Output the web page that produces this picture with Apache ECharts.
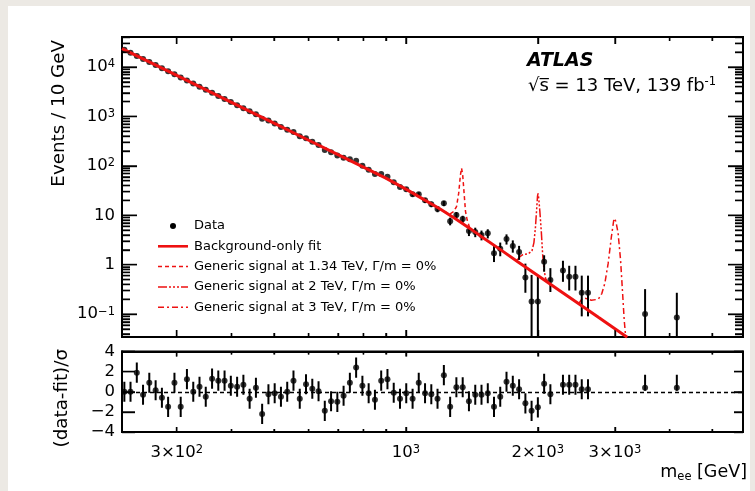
<!DOCTYPE html>
<html>
<head>
<meta charset="utf-8">
<script src="https://cdn.jsdelivr.net/npm/echarts@6/dist/echarts.min.js"></script>
<style>
  html, body { margin: 0; padding: 0; background: #ece9e4; }
  #panel { position: absolute; left: 8px; top: 6px; width: 742px; height: 485px; background: #fff; }
  #chart { position: absolute; left: 0; top: 0; width: 755px; height: 491px; }
</style>
</head>
<body>
<div id="panel"></div>
<div id="chart"></div>
<script>
// Dielectron invariant-mass spectrum: data, background-only fit, generic signals, and pulls.
const FONT = '"DejaVu Sans", "Liberation Sans", sans-serif';
const RED = '#ee1111';

// m_ee bin centres [GeV]; the last two are wide high-mass bins
const massGeV = [227.8, 235.3, 243.2, 251.3, 259.7, 268.5, 277.5, 286.7, 296.4, 306.3,
  316.5, 327.2, 338.1, 349.4, 361.2, 373.2, 385.7, 398.6, 412.0, 425.8,
  440.0, 454.8, 469.9, 485.7, 501.9, 518.7, 536.1, 554.0, 572.6, 591.7,
  611.6, 632.0, 653.1, 675.0, 697.6, 720.9, 745.1, 770.0, 795.8, 822.4,
  850.0, 878.4, 907.8, 938.2, 969.6, 1002, 1036, 1070, 1106, 1143,
  1181, 1221, 1262, 1304, 1348, 1393, 1440, 1488, 1538, 1589,
  1642, 1697, 1754, 1813, 1874, 1936, 2001, 2068, 2137, 2209,
  2283, 2359, 2438, 2520, 2604, 3515, 4153];

// Events / 10 GeV (null = empty bin)
const events = [22300, 19300, 16700, 14500, 12600, 10900, 9440, 8190, 7100, 6150,
  5320, 4620, 4000, 3470, 3000, 2600, 2260, 1950, 1690, 1470,
  1270, 1100, 900, 828, 718, 612, 538, 484, 395, 361,
  306, 263, 209, 189, 162, 145, 136, 126, 100, 82.9,
  68.4, 68.0, 59.8, 46.4, 37.4, 33.4, 26.6, 26.5, 20.0, 16.7,
  13.3, 17.4, 7.6, 10.1, 8.4, 4.8, 4.6, 4.0, 4.3, 1.7,
  2.1, 3.3, 2.4, 1.8, 0.55, 0.18, 0.18, 1.15, 0.49, null,
  0.76, 0.57, 0.57, 0.27, 0.27, 0.10, 0.085];

// (data - fit) / sigma per bin
const pull = [0, 0, 1.9, -0.3, 0.9, 0.15, -0.6, -1.5, 0.9, -1.5,
  1.25, 0, 0.5, -0.5, 1.3, 1.1, 1.1, 0.6, 0.5, 0.7,
  -0.7, 0.4, -2.2, -0.25, -0.15, -0.5, 0, 1.1, -0.7, 0.75,
  0.3, 0.05, -1.9, -0.95, -1.0, -0.4, 0.9, 2.4, 0.6, -0.15,
  -0.8, 1.1, 1.25, -0.1, -0.7, -0.15, -0.7, 0.9, -0.15, -0.25,
  -0.7, 1.65, -1.5, 0.45, 0.45, -0.95, -0.3, -0.3, -0.15, -1.5,
  -0.5, 1.0, 0.6, 0.25, -1.15, -1.9, -1.55, 0.8, -0.25, null,
  0.7, 0.7, 0.7, 0.25, 0.25, 0.4, 0.4];

// Statistical error bars, from bin ERR_FROM on (below that they hide under the marker)
const ERR_FROM = 45;
const errLow = [30.3, 23.8, 23.8, 17.7, 14.6, 11.5, 15.3, 6.25, 8.6, 7.04,
  3.79, 3.6, 3.1, 3.4, 1.13, 1.48, 2.55, 1.75, 1.25, 0.27,
  0.02, 0.02, 0.72, 0.28, null, 0.45, 0.3, 0.3, 0.09, 0.09,
  0.02, 0.02];
const errHigh = [36.5, 29.4, 29.2, 22.3, 18.8, 15.1, 19.5, 8.95, 11.6, 9.76,
  5.81, 5.6, 4.9, 5.2, 2.4, 2.8, 4.1, 3.1, 2.4, 1.05,
  0.62, 0.62, 1.55, 0.85, null, 1.2, 0.95, 0.95, 0.6, 0.6,
  0.32, 0.27];
// Pull error: 1 sigma, except the single-event tail bins
const tailPullErr = { 75: [0.3, 1.3], 76: [0.3, 1.3] };

// Background-only fit
const fitMass = [225, 250, 300, 350, 400, 450, 500, 600, 700, 800, 900, 1000, 1100, 1200,
  1300, 1400, 1500, 1650, 1800, 2000, 2250, 2500, 2750, 3000, 3200];
const fitEvents = [23500, 14860, 6730, 3435, 1923, 1153, 728, 329, 168, 94.2, 56.5, 33.8, 20.7, 13.2,
  8.4, 5.42, 3.52, 1.97, 1.15, 0.605, 0.294, 0.154, 0.0859, 0.0505, 0.034];

// Fit + generic signal, Gamma/m = 0%
const sig134Mass = [1220, 1260, 1285, 1305, 1320, 1332, 1340, 1348, 1358, 1368, 1380, 1400];
const sig134Events = [12.0, 10.6, 11.8, 15, 28, 65, 90, 65, 28, 12, 8.0, 5.42];
const sig2Mass = [1790, 1820, 1850, 1900, 1940, 1960, 1975, 1988, 1997, 2003, 2010, 2022, 2038, 2052, 2066, 2085, 2110];
const sig2Events = [1.2, 1.45, 1.6, 1.65, 1.9, 2.8, 5.5, 13, 24, 27.7, 22, 12, 4.5, 1.6, 0.8, 0.52, 0.435];
const sig3Mass = [2480, 2520, 2560, 2650, 2750, 2800, 2845, 2895, 2945, 2985, 3000, 3015, 3050, 3090, 3120, 3150, 3175];
const sig3Events = [0.162, 0.2, 0.21, 0.19, 0.2, 0.26, 0.42, 1.06, 3.7, 8.6, 9.3, 7.5, 4.4, 1.24, 0.31, 0.075, 0.034];

// Axis ticks and labels
const xMajorTicks = [300, 1000, 2000, 3000];
const xMajorLabels = ['3×10^2', '10^3', '2×10^3', '3×10^3'];
const xMinorTicks = [400, 500, 600, 700, 800, 900, 4000, 5000];
const yMajorTicks = [0.1, 1, 10, 100, 1000, 10000];
const yMajorLabels = ['10^−1', '1', '10', '10^2', '10^3', '10^4'];
const pullTicks = [-4, -2, 0, 2, 4];
const pullLabels = ['−4', '−2', '0', '2', '4'];

const X_MIN = 225, X_MAX = 5880;
const Y_MIN = 0.0344, Y_MAX = 40400;
const P_MIN = -4, P_MAX = 4;

const yMinorTicks = [];
for (let d = -2; d <= 4; d++) {
  for (let k = 2; k <= 9; k++) {
    const v = k * Math.pow(10, d);
    if (v > Y_MIN && v < Y_MAX) yMinorTicks.push(v);
  }
}

const RICH = {
  b: { fontFamily: FONT, fontSize: 16.5, lineHeight: 17, verticalAlign: 'bottom', color: '#000' },
  e: { fontFamily: FONT, fontSize: 11.5, lineHeight: 11, verticalAlign: 'top', padding: [0, 0, 9, 0], color: '#000' }
};
function richPow(label) {
  const k = label.indexOf('^');
  if (k < 0) return '{b|' + label + '}';
  return '{b|' + label.slice(0, k) + '}{e|' + label.slice(k + 1) + '}';
}
function labelFor(ticks, labels, v, isLog) {
  let best = 0, bd = Infinity;
  ticks.forEach((t, i) => {
    const d = isLog ? Math.abs(Math.log10(v / t)) : Math.abs(v - t);
    if (d < bd) { bd = d; best = i; }
  });
  return labels[best];
}

const FRAME = { show: true, onZero: false, lineStyle: { color: '#000', width: 1.8 } };
const noTick = { show: false };
// Axes 0/1 carry the labels and the series; the rest only draw inward frame ticks.
const xAxes = [
  { type: 'log', logBase: 10, gridIndex: 0, position: 'bottom', min: X_MIN, max: X_MAX,
    axisLine: FRAME, splitLine: { show: false }, axisTick: noTick, axisLabel: { show: false } },
  { type: 'log', logBase: 10, gridIndex: 1, position: 'bottom', min: X_MIN, max: X_MAX,
    axisLine: FRAME, splitLine: { show: false }, axisTick: noTick,
    axisLabel: { show: true, customValues: xMajorTicks, margin: 12, rich: RICH,
      formatter: v => richPow(labelFor(xMajorTicks, xMajorLabels, v, true)) } }
];
const yAxes = [
  { type: 'log', logBase: 10, gridIndex: 0, position: 'left', min: Y_MIN, max: Y_MAX,
    axisLine: FRAME, splitLine: { show: false }, axisTick: noTick,
    axisLabel: { show: true, customValues: yMajorTicks, margin: 7, rich: RICH,
      formatter: v => richPow(labelFor(yMajorTicks, yMajorLabels, v, true)) } },
  { type: 'value', gridIndex: 1, position: 'left', min: P_MIN, max: P_MAX,
    axisLine: FRAME, splitLine: { show: false }, axisTick: noTick,
    axisLabel: { show: true, customValues: pullTicks, margin: 7, color: '#000',
      fontFamily: FONT, fontSize: 16.5, formatter: v => labelFor(pullTicks, pullLabels, v, false) } }
];
function tickAxis(base, gridIndex, position, values, len) {
  return Object.assign({}, base, { gridIndex, position, axisLine: FRAME, splitLine: { show: false },
    axisLabel: { show: false },
    axisTick: { show: true, inside: true, length: len, customValues: values,
      lineStyle: { color: '#000', width: 1.4 } } });
}
const X_BASE = { type: 'log', logBase: 10, min: X_MIN, max: X_MAX };
const Y_BASE = { type: 'log', logBase: 10, min: Y_MIN, max: Y_MAX };
const P_BASE = { type: 'value', min: P_MIN, max: P_MAX };
[['bottom', 0], ['top', 0], ['bottom', 1], ['top', 1]].forEach(([pos, g]) => {
  xAxes.push(tickAxis(X_BASE, g, pos, xMajorTicks, g === 0 ? 7 : 5));
  xAxes.push(tickAxis(X_BASE, g, pos, xMinorTicks, g === 0 ? 4 : 3));
});
['left', 'right'].forEach(pos => {
  yAxes.push(tickAxis(Y_BASE, 0, pos, yMajorTicks, 15));
  yAxes.push(tickAxis(Y_BASE, 0, pos, yMinorTicks, 8));
  yAxes.push(tickAxis(P_BASE, 1, pos, pullTicks, pos === 'left' ? 13 : 9));
});

// Series data built from the arrays above
const dataPoints = [];
massGeV.forEach((m, i) => { if (events[i] != null) dataPoints.push([m, events[i]]); });
const dataBars = [];
errLow.forEach((lo, j) => {
  const i = ERR_FROM + j;
  if (lo != null) dataBars.push([massGeV[i], lo, errHigh[j]]);
});
const pullPoints = [];
const pullBars = [];
massGeV.forEach((m, i) => {
  if (pull[i] == null) return;
  pullPoints.push([m, pull[i]]);
  const e = tailPullErr[i] || [1, 1];
  pullBars.push([m, pull[i] - e[0], pull[i] + e[1]]);
});
const zip = (xs, ys) => xs.map((x, i) => [x, ys[i]]);

function barRenderer(params, api) {
  const lo = api.coord([api.value(0), api.value(1)]);
  const hi = api.coord([api.value(0), api.value(2)]);
  return { type: 'line', shape: { x1: lo[0], y1: lo[1], x2: hi[0], y2: hi[1] },
    style: { stroke: '#000', lineWidth: 2 } };
}

// Frame ticks also drawn as thin rect symbols anchored just inside each frame edge
const tickMarks = [];
function tickMark(gi, points, size, offset) {
  tickMarks.push({ type: 'scatter', xAxisIndex: gi, yAxisIndex: gi, data: points, symbol: 'rect',
    symbolSize: size, symbolOffset: offset, itemStyle: { color: '#000' }, clip: false, silent: true, z: 5 });
}
function xMarks(gi, values, lo, hi, len) {
  tickMark(gi, values.map(v => [v, lo]), [1.4, len], [0, -len / 2]);
  tickMark(gi, values.map(v => [v, hi]), [1.4, len], [0, len / 2]);
}
function yMarks(gi, values, lenL, lenR) {
  tickMark(gi, values.map(v => [X_MIN * 1.0001, v]), [lenL, 1.4], [lenL / 2, 0]);
  tickMark(gi, values.map(v => [X_MAX * 0.9999, v]), [lenR, 1.4], [-lenR / 2, 0]);
}
xMarks(0, xMajorTicks, Y_MIN * 1.0001, Y_MAX * 0.9999, 7);
xMarks(0, xMinorTicks, Y_MIN * 1.0001, Y_MAX * 0.9999, 4);
yMarks(0, yMajorTicks, 15, 15);
yMarks(0, yMinorTicks, 8, 8);
xMarks(1, xMajorTicks, P_MIN + 0.001, P_MAX - 0.001, 5);
xMarks(1, xMinorTicks, P_MIN + 0.001, P_MAX - 0.001, 3);
yMarks(1, pullTicks, 13, 9);

const SIG_DASH = [[4, 3], [9, 2, 2, 2, 2, 2, 2, 2], [6, 3, 2, 3]];
const SIG_NAMES = ['Generic signal at 1.34 TeV, Γ/m = 0%', 'Generic signal at 2 TeV, Γ/m = 0%',
  'Generic signal at 3 TeV, Γ/m = 0%'];

// Legend drawn as graphic rows
const LEG_X = 158, LEG_Y = 226, LEG_DY = 20.3;
const legend = [];
const legRows = [
  { text: 'Data', kind: 'marker' },
  { text: 'Background-only fit', kind: 'line', width: 2.6, dash: null },
  { text: SIG_NAMES[0], kind: 'line', width: 1.5, dash: SIG_DASH[0] },
  { text: SIG_NAMES[1], kind: 'line', width: 1.5, dash: SIG_DASH[1] },
  { text: SIG_NAMES[2], kind: 'line', width: 1.5, dash: SIG_DASH[2] }
];
legRows.forEach((r, k) => {
  const y = LEG_Y + k * LEG_DY;
  if (r.kind === 'marker') {
    legend.push({ type: 'circle', shape: { cx: LEG_X + 15, cy: y, r: 3 }, style: { fill: '#000' } });
  } else {
    legend.push({ type: 'line', shape: { x1: LEG_X, y1: y, x2: LEG_X + 30, y2: y },
      style: { stroke: RED, lineWidth: r.width, lineDash: r.dash } });
  }
  legend.push({ type: 'text', style: { x: LEG_X + 36, y, text: r.text, fill: '#000',
    fontFamily: FONT, fontSize: 13, verticalAlign: 'middle' } });
});

const chart = echarts.init(document.getElementById('chart'), null, { renderer: 'canvas' });
chart.setOption({
  animation: false,
  backgroundColor: 'transparent',
  grid: [
    { left: 122, top: 37, width: 621, height: 300, show: true, borderColor: '#000', borderWidth: 1.8,
      containLabel: false, outerBoundsMode: 'none' },
    { left: 122, top: 351.5, width: 621, height: 80.5, show: true, borderColor: '#000', borderWidth: 1.8,
      containLabel: false, outerBoundsMode: 'none' }
  ],
  xAxis: xAxes,
  yAxis: yAxes,
  series: [
    { name: 'Generic signal 1.34 TeV', type: 'line', xAxisIndex: 0, yAxisIndex: 0, data: zip(sig134Mass, sig134Events),
      showSymbol: false, symbol: 'none', lineStyle: { color: RED, width: 1.5, type: SIG_DASH[0] }, z: 2, clip: true },
    { name: 'Generic signal 2 TeV', type: 'line', xAxisIndex: 0, yAxisIndex: 0, data: zip(sig2Mass, sig2Events),
      showSymbol: false, symbol: 'none', lineStyle: { color: RED, width: 1.5, type: SIG_DASH[1] }, z: 2, clip: true },
    { name: 'Generic signal 3 TeV', type: 'line', xAxisIndex: 0, yAxisIndex: 0, data: zip(sig3Mass, sig3Events),
      showSymbol: false, symbol: 'none', lineStyle: { color: RED, width: 1.5, type: SIG_DASH[2] }, z: 2, clip: true },
    { name: 'Data errors', type: 'custom', xAxisIndex: 0, yAxisIndex: 0, data: dataBars,
      renderItem: barRenderer, clip: true, z: 3, silent: true },
    { name: 'Data', type: 'scatter', xAxisIndex: 0, yAxisIndex: 0, data: dataPoints,
      symbol: 'circle', symbolSize: 6, itemStyle: { color: '#000' }, z: 3, clip: true },
    { name: 'Background-only fit', type: 'line', xAxisIndex: 0, yAxisIndex: 0, data: zip(fitMass, fitEvents),
      showSymbol: false, symbol: 'none', lineStyle: { color: RED, width: 3 }, z: 4, clip: true },
    { name: 'Pull errors', type: 'custom', xAxisIndex: 1, yAxisIndex: 1, data: pullBars,
      renderItem: barRenderer, clip: true, z: 3, silent: true },
    { name: 'Pull', type: 'scatter', xAxisIndex: 1, yAxisIndex: 1, data: pullPoints,
      symbol: 'circle', symbolSize: 6, itemStyle: { color: '#000' }, z: 3,
      markLine: { silent: true, symbol: ['none', 'none'], label: { show: false },
        lineStyle: { color: '#000', width: 1.3, type: [4, 3] }, data: [{ yAxis: 0 }] } }
  ].concat(tickMarks),
  graphic: [
    { type: 'text', style: { x: 527, y: 61, text: 'ATLAS', fill: '#000', fontFamily: FONT, fontSize: 19,
      fontWeight: 'bold', fontStyle: 'italic', verticalAlign: 'middle' } },
    { type: 'text', style: { x: 528, y: 86, text: '{t|√s\u0305 = 13 TeV, 139 fb}{e|-1}', verticalAlign: 'middle',
      rich: { t: { fontFamily: FONT, fontSize: 18, lineHeight: 19, verticalAlign: 'bottom', color: '#000' },
              e: { fontFamily: FONT, fontSize: 11.5, lineHeight: 11, verticalAlign: 'top', padding: [0, 0, 9, 0], color: '#000' } } } },
    { type: 'text', x: 59, y: 40, rotation: Math.PI / 2, style: { text: 'Events / 10 GeV', fill: '#000',
      fontFamily: FONT, fontSize: 18.3, align: 'right', verticalAlign: 'middle' } },
    { type: 'text', x: 62, y: 349, rotation: Math.PI / 2, style: { text: '(data-fit)/σ', fill: '#000',
      fontFamily: FONT, fontSize: 18.3, align: 'right', verticalAlign: 'middle' } },
    { type: 'text', style: { x: 747, y: 473, align: 'right', verticalAlign: 'middle',
      text: '{m|m}{s|ee}{m| [GeV]}',
      rich: { m: { fontFamily: FONT, fontSize: 17.5, lineHeight: 20, verticalAlign: 'top', color: '#000' },
              s: { fontFamily: FONT, fontSize: 11.5, lineHeight: 12, verticalAlign: 'bottom', padding: [8, 0, 0, 0], color: '#000' } } } }
  ].concat(legend)
});
</script>
</body>
</html>
